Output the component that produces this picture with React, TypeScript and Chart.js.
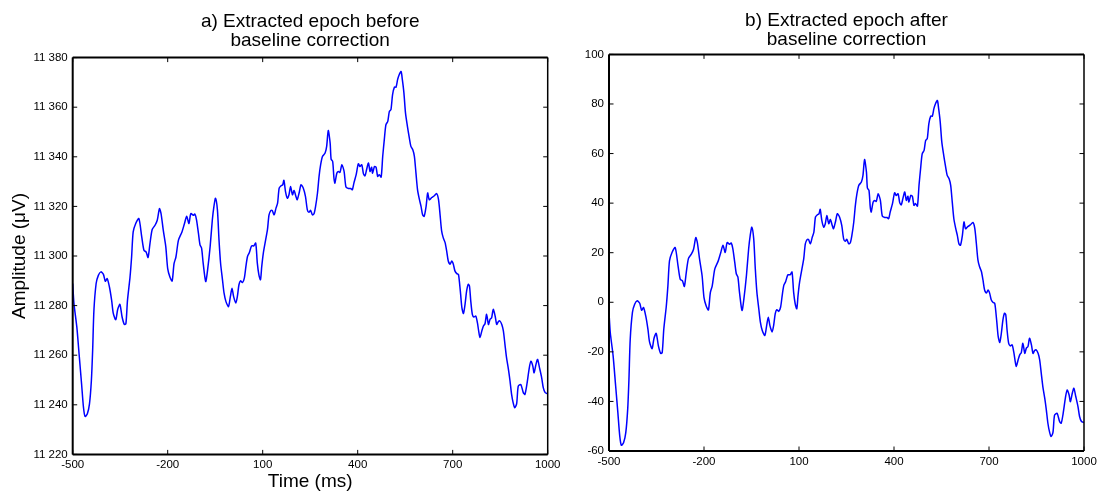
import React, { useEffect, useRef } from "react";
import { Chart, registerables } from "chart.js";

Chart.register(...registerables);

// ---------------- data ----------------
const timeMs = [
  -500, -496, -487, -479, -472, -466, -461, -454, -447, -441,
  -437, -433, -426, -419, -411, -403, -397, -391, -384, -377,
  -372, -364, -358, -351, -344, -337, -332, -327, -319, -314,
  -309, -301, -291, -282, -275, -268, -262, -256, -249, -240,
  -233, -226, -221, -214, -206, -200, -193, -186, -180, -174,
  -166, -155, -147, -140, -133, -127, -119, -114, -109, -103,
  -98, -93, -88, -80, -74, -66, -59, -54, -49, -43,
  -38, -33, -27, -22, -16, -8, -2, 3, 8, 15,
  20, 25, 30, 36, 42, 47, 52, 58, 65, 72,
  78, 83, 88, 93, 97, 102, 109, 115, 120, 126,
  130, 136, 142, 147, 152, 158, 163, 167, 172, 178,
  183, 188, 194, 199, 205, 209, 215, 221, 228, 235,
  241, 246, 251, 257, 262, 267, 273, 278, 283, 289,
  297, 302, 307, 313, 316, 321, 325, 328, 334, 339,
  344, 350, 357, 363, 371, 378, 383, 388, 395, 402,
  407, 413, 418, 423, 428, 434, 439, 444, 447, 453,
  458, 463, 468, 474, 479, 484, 489, 495, 500, 505,
  510, 516, 521, 526, 531, 537, 541, 546, 551, 557,
  563, 568, 574, 579, 584, 589, 595, 600, 605, 610,
  616, 621, 626, 634, 641, 649, 655, 660, 665, 670,
  676, 681, 686, 692, 697, 702, 707, 713, 718, 721,
  725, 729, 734, 739, 744, 749, 753, 757, 762, 767,
  773, 778, 782, 786, 792, 797, 802, 807, 813, 818,
  823, 828, 834, 839, 844, 849, 855, 860, 865, 870,
  876, 881, 886, 891, 896, 902, 907, 915, 923, 928,
  934, 942, 947, 953, 957, 963, 968, 974, 981, 986,
  992, 1000,
];

const amplitudeBefore = [
  11288.9, 11280.8, 11271.4, 11259.2, 11248.5, 11239.0, 11235.3, 11236.3, 11240.4, 11249.8,
  11262.0, 11278.0, 11288.9, 11292.2, 11293.6, 11292.6, 11289.8, 11290.9, 11287.5, 11282.1,
  11277.0, 11274.3, 11278.4, 11280.5, 11275.4, 11272.4, 11272.7, 11282.1, 11291.5, 11299.6,
  11309.7, 11313.1, 11315.1, 11307.7, 11302.3, 11301.6, 11299.4, 11305.0, 11310.7, 11312.4,
  11314.4, 11319.1, 11317.1, 11310.4, 11303.7, 11294.9, 11291.5, 11289.9, 11296.9, 11299.6,
  11306.4, 11309.7, 11313.1, 11316.0, 11313.1, 11317.1, 11316.4, 11316.9, 11314.6, 11309.2,
  11304.5, 11303.2, 11297.1, 11289.7, 11294.4, 11303.8, 11314.6, 11320.0, 11323.3, 11318.6,
  11306.5, 11297.1, 11290.4, 11285.0, 11281.6, 11279.6, 11283.7, 11287.0, 11283.7, 11281.0,
  11283.7, 11288.4, 11290.0, 11289.3, 11291.1, 11295.8, 11299.8, 11301.4, 11304.1, 11304.1,
  11305.2, 11297.1, 11292.4, 11290.4, 11295.8, 11301.2, 11306.3, 11310.6, 11316.6, 11318.4,
  11318.4, 11316.6, 11319.3, 11321.3, 11327.4, 11328.3, 11328.7, 11330.5, 11326.0, 11323.3,
  11324.7, 11328.0, 11324.7, 11326.4, 11324.0, 11322.7, 11325.4, 11328.7, 11327.4, 11324.0,
  11318.6, 11317.6, 11318.4, 11316.6, 11317.0, 11320.0, 11325.4, 11332.1, 11336.8, 11340.2,
  11341.5, 11344.2, 11350.6, 11345.5, 11339.1, 11338.1, 11331.4, 11329.4, 11333.4, 11334.1,
  11333.7, 11336.8, 11334.1, 11327.8, 11327.2, 11327.2, 11326.7, 11329.4, 11332.7, 11337.2,
  11336.1, 11336.8, 11333.2, 11332.3, 11334.8, 11337.5, 11334.1, 11335.8, 11333.4, 11336.1,
  11335.8, 11332.1, 11332.8, 11331.8, 11340.2, 11346.9, 11352.9, 11354.3, 11358.3, 11359.0,
  11365.0, 11368.1, 11368.1, 11371.1, 11373.1, 11374.4, 11371.1, 11365.7, 11357.6, 11352.3,
  11347.6, 11344.2, 11342.8, 11340.2, 11333.4, 11326.7, 11322.7, 11320.0, 11316.6, 11316.0,
  11320.0, 11325.4, 11322.7, 11323.6, 11324.2, 11325.2, 11322.9, 11316.8, 11310.1, 11307.4,
  11305.4, 11302.0, 11298.0, 11296.7, 11298.0, 11296.7, 11294.0, 11292.9, 11292.6, 11289.9,
  11284.6, 11279.2, 11276.8, 11280.5, 11285.9, 11288.6, 11287.9, 11281.9, 11276.5, 11275.4,
  11275.8, 11273.1, 11269.8, 11267.1, 11269.8, 11271.8, 11272.7, 11276.5, 11272.4, 11274.5,
  11275.1, 11278.5, 11275.8, 11272.4, 11273.5, 11273.8, 11272.4, 11269.8, 11264.4, 11259.0,
  11254.3, 11249.6, 11244.2, 11240.8, 11238.8, 11240.5, 11247.5, 11248.2, 11244.9, 11244.2,
  11248.0, 11255.0, 11257.6, 11255.6, 11252.9, 11256.3, 11258.3, 11255.0, 11250.9, 11246.9,
  11244.9, 11244.5,
];

const amplitudeAfter = [
  -4.1, -12.2, -21.6, -33.8, -44.5, -54.0, -57.7, -56.7, -52.6, -43.2,
  -31.0, -15.0, -4.1, -0.8, 0.6, -0.4, -3.2, -2.1, -5.5, -10.9,
  -16.0, -18.7, -14.6, -12.5, -17.6, -20.6, -20.3, -10.9, -1.5, 6.6,
  16.7, 20.1, 22.1, 14.7, 9.3, 8.6, 6.4, 12.0, 17.7, 19.4,
  21.4, 26.1, 24.1, 17.4, 10.7, 1.9, -1.5, -3.1, 3.9, 6.6,
  13.4, 16.7, 20.1, 23.0, 20.1, 24.1, 23.4, 23.9, 21.6, 16.2,
  11.5, 10.2, 4.1, -3.3, 1.4, 10.8, 21.6, 27.0, 30.3, 25.6,
  13.5, 4.1, -2.6, -8.0, -11.4, -13.4, -9.3, -6.0, -9.3, -12.0,
  -9.3, -4.6, -3.0, -3.7, -1.9, 2.8, 6.8, 8.4, 11.1, 11.1,
  12.2, 4.1, -0.6, -2.6, 2.8, 8.2, 13.3, 17.6, 23.6, 25.4,
  25.4, 23.6, 26.3, 28.3, 34.4, 35.3, 35.7, 37.5, 33.0, 30.3,
  31.7, 35.0, 31.7, 33.4, 31.0, 29.7, 32.4, 35.7, 34.4, 31.0,
  25.6, 24.6, 25.4, 23.6, 24.0, 27.0, 32.4, 39.1, 43.8, 47.2,
  48.5, 51.2, 57.6, 52.5, 46.1, 45.1, 38.4, 36.4, 40.4, 41.1,
  40.7, 43.8, 41.1, 34.8, 34.2, 34.2, 33.7, 36.4, 39.7, 44.2,
  43.1, 43.8, 40.2, 39.3, 41.8, 44.5, 41.1, 42.8, 40.4, 43.1,
  42.8, 39.1, 39.8, 38.8, 47.2, 53.9, 59.9, 61.3, 65.3, 66.0,
  72.0, 75.1, 75.1, 78.1, 80.1, 81.4, 78.1, 72.7, 64.6, 59.3,
  54.6, 51.2, 49.8, 47.2, 40.4, 33.7, 29.7, 27.0, 23.6, 23.0,
  27.0, 32.4, 29.7, 30.6, 31.2, 32.2, 29.9, 23.8, 17.1, 14.4,
  12.4, 9.0, 5.0, 3.7, 5.0, 3.7, 1.0, -0.1, -0.4, -3.1,
  -8.4, -13.8, -16.2, -12.5, -7.1, -4.4, -5.1, -11.1, -16.5, -17.6,
  -17.2, -19.9, -23.2, -25.9, -23.2, -21.2, -20.3, -16.5, -20.6, -18.5,
  -17.9, -14.5, -17.2, -20.6, -19.5, -19.2, -20.6, -23.2, -28.6, -34.0,
  -38.7, -43.4, -48.8, -52.2, -54.2, -52.5, -45.5, -44.8, -48.1, -48.8,
  -45.0, -38.0, -35.4, -37.4, -40.1, -36.7, -34.7, -38.0, -42.1, -46.1,
  -48.1, -48.5,
];

const timeTicks = [-500, -200, 100, 400, 700, 1000];
const beforeTicks = [11220, 11240, 11260, 11280, 11300, 11320, 11340, 11360, 11380];
const afterTicks = [-60, -40, -20, 0, 20, 40, 60, 80, 100];

const titleBefore = ["a) Extracted epoch before", "baseline correction"];
const titleAfter = ["b) Extracted epoch after", "baseline correction"];
const xAxisLabel = "Time (ms)";
const yAxisLabel = "Amplitude (\u03bcV)";

// ---------------- helpers ----------------
const FONT = "'Liberation Sans', Arial, Helvetica, sans-serif";
const LINE_COLOR = "#0000ff";

const spaced = (v: number) => {
  const s = Math.abs(v).toString().replace(/\B(?=(\d{3})+(?!\d))/g, " ");
  return (v < 0 ? "-" : "") + s;
};

const framePlugin = {
  id: "matlabFrame",
  afterDraw(chart: any) {
    const { ctx, chartArea: a, scales } = chart;
    const xs = scales.x;
    const ys = scales.y;
    const tl = 4.5;
    ctx.save();
    ctx.strokeStyle = "#000";
    ctx.lineWidth = 1;
    ctx.beginPath();
    xs.ticks.forEach((t: any) => {
      const px = xs.getPixelForValue(t.value);
      ctx.moveTo(px, a.bottom);
      ctx.lineTo(px, a.bottom - tl);
      ctx.moveTo(px, a.top);
      ctx.lineTo(px, a.top + tl);
    });
    ys.ticks.forEach((t: any) => {
      const py = ys.getPixelForValue(t.value);
      ctx.moveTo(a.left, py);
      ctx.lineTo(a.left + tl, py);
      ctx.moveTo(a.right, py);
      ctx.lineTo(a.right - tl, py);
    });
    ctx.stroke();
    ctx.lineWidth = 2;
    ctx.beginPath();
    ctx.moveTo(a.left, a.top);
    ctx.lineTo(a.right, a.top);
    ctx.moveTo(a.left, a.bottom);
    ctx.lineTo(a.right, a.bottom);
    ctx.moveTo(a.left, a.top);
    ctx.lineTo(a.left, a.bottom);
    ctx.stroke();
    ctx.lineWidth = 1.5;
    ctx.beginPath();
    ctx.moveTo(a.right, a.top);
    ctx.lineTo(a.right, a.bottom);
    ctx.stroke();
    ctx.restore();
  },
};

type PanelSpec = {
  title: string[];
  values: number[];
  yMin: number;
  yMax: number;
  yTicks: number[];
  yFormat: (v: number) => string;
  yWidth: number;
  xHeight: number;
  padRight: number;
  titlePadTop: number;
  titlePadBottom: number;
  showXTitle: boolean;
  showYTitle: boolean;
};

function makeConfig(p: PanelSpec): any {
  const points = timeMs.map((t, i) => ({ x: t, y: p.values[i] }));
  return {
    type: "line",
    data: {
      datasets: [
        {
          data: points,
          borderColor: LINE_COLOR,
          borderWidth: 1.5,
          pointRadius: 0,
          tension: 0.25,
          fill: false,
        },
      ],
    },
    plugins: [framePlugin],
    options: {
      responsive: false,
      animation: false,
      events: [],
      layout: { padding: { left: 0, top: 0, right: p.padRight, bottom: 0 } },
      plugins: {
        legend: { display: false },
        tooltip: { enabled: false },
        title: {
          display: true,
          text: p.title,
          fullSize: false,
          color: "#000",
          font: { family: FONT, size: 19, weight: "normal", lineHeight: 1.0 },
          padding: { top: p.titlePadTop, bottom: p.titlePadBottom },
        },
      },
      scales: {
        x: {
          type: "linear",
          min: -500,
          max: 1000,
          grid: { display: false, drawTicks: false },
          border: { display: false },
          afterBuildTicks: (s: any) => {
            s.ticks = timeTicks.map((v) => ({ value: v }));
          },
          afterFit: (s: any) => {
            s.height = p.xHeight;
            s.paddingLeft = 0;
            s.paddingRight = 0;
          },
          ticks: {
            autoSkip: false,
            maxRotation: 0,
            padding: 4,
            color: "#000",
            font: { family: FONT, size: 11.5 },
            callback: (v: number) => String(v),
          },
          title: {
            display: p.showXTitle,
            text: xAxisLabel,
            color: "#000",
            font: { family: FONT, size: 19 },
            padding: { top: 0, bottom: 0 },
          },
        },
        y: {
          type: "linear",
          min: p.yMin,
          max: p.yMax,
          grid: { display: false, drawTicks: false },
          border: { display: false },
          afterBuildTicks: (s: any) => {
            s.ticks = p.yTicks.map((v) => ({ value: v }));
          },
          afterFit: (s: any) => {
            s.width = p.yWidth;
            s.paddingTop = 0;
            s.paddingBottom = 0;
          },
          ticks: {
            autoSkip: false,
            padding: 5,
            color: "#000",
            font: { family: FONT, size: 11.5 },
            callback: (v: number) => p.yFormat(v),
          },
          title: {
            display: p.showYTitle,
            text: yAxisLabel,
            color: "#000",
            font: { family: FONT, size: 19 },
            padding: { top: 8.6, bottom: 0 },
          },
        },
      },
    },
  };
}

function Panel(props: { spec: PanelSpec; left: number; width: number }) {
  const ref = useRef<HTMLCanvasElement | null>(null);
  useEffect(() => {
    if (!ref.current) return;
    const chart = new Chart(ref.current, makeConfig(props.spec));
    return () => chart.destroy();
  }, []);
  return (
    <canvas
      ref={ref}
      width={props.width}
      height={493}
      style={{
        position: "absolute",
        left: props.left,
        top: 0,
        width: props.width,
        height: 493,
      }}
    />
  );
}

const leftSpec: PanelSpec = {
  title: titleBefore,
  values: amplitudeBefore,
  yMin: 11220,
  yMax: 11380,
  yTicks: beforeTicks,
  yFormat: spaced,
  yWidth: 72.7,
  xHeight: 493 - 454.4,
  padRight: 580 - 547.7,
  titlePadTop: 12.3,
  titlePadBottom: 57.6 - 12.3 - 38,
  showXTitle: true,
  showYTitle: true,
};

const rightSpec: PanelSpec = {
  title: titleAfter,
  values: amplitudeAfter,
  yMin: -60,
  yMax: 100,
  yTicks: afterTicks,
  yFormat: (v: number) => String(v),
  yWidth: 29,
  xHeight: 493 - 451,
  padRight: 521 - 504,
  titlePadTop: 11.5,
  titlePadBottom: 54.4 - 11.5 - 38,
  showXTitle: false,
  showYTitle: false,
};

export default function App() {
  return (
    <div
      style={{
        position: "absolute",
        left: 0,
        top: 0,
        width: 1101,
        height: 493,
        background: "#fff",
        overflow: "hidden",
      }}
    >
      <Panel spec={leftSpec} left={0} width={580} />
      <Panel spec={rightSpec} left={580} width={521} />
    </div>
  );
}
